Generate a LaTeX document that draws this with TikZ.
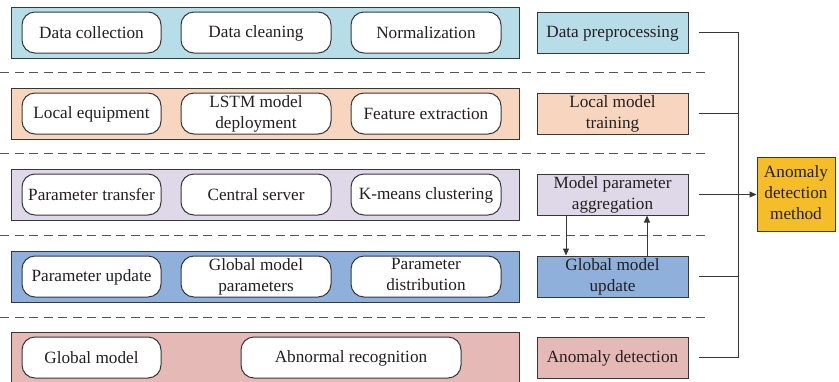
\documentclass[tikz,border=0pt]{standalone}
\usepackage{fontspec}
\setmainfont{Liberation Serif}
\usetikzlibrary{arrows.meta}
\definecolor{cA}{RGB}{183,221,232}
\definecolor{cB}{RGB}{248,213,190}
\definecolor{cC}{RGB}{222,216,232}
\definecolor{cD}{RGB}{142,176,219}
\definecolor{cE}{RGB}{229,185,182}
\definecolor{cF}{RGB}{245,190,40}
\definecolor{ln}{RGB}{55,55,55}
\definecolor{txt}{RGB}{35,31,32}
\newcommand{\topstr}{\rule{0pt}{14.5pt}}
\newcommand{\botstr}{\rule[-3.5pt]{0pt}{3.5pt}}
\begin{document}
\begin{tikzpicture}[x=1pt,y=-1pt,
  every node/.style={font=\fontsize{17.2}{21}\selectfont, text=txt, align=center, inner sep=0pt,
    execute at begin node=\topstr, execute at end node=\botstr},
  band/.style={draw=ln, line width=1pt, minimum width=508pt, minimum height=51pt},
  pill/.style={draw=ln, fill=white, line width=1pt, rounded corners=13pt, minimum height=41pt},
  lbl/.style={draw=ln, line width=1pt, minimum width=151pt, minimum height=41pt},
  sep/.style={draw=ln!85, line width=1pt, dash pattern=on 9pt off 5.5pt},
  conn/.style={draw=ln, line width=1pt},
  tip/.style={-{Triangle[length=7pt,width=6pt]}}
]
\useasboundingbox (0,0) rectangle (839,381);
% bands
\node[band, fill=cA] (b1) at (265,32.5) {};
\node[band, fill=cB] (b2) at (265,113.5) {};
\node[band, fill=cC] (b3) at (265,194.5) {};
\node[band, fill=cD] (b4) at (265,276.5) {};
\node[band, fill=cE] (b5) at (265,357.5) {};
% row 1
\node[pill, minimum width=139pt] (p11) at (91.5,32.5) {Data collection};
\node[pill, minimum width=150pt] (p12) at (256,32.5) {Data cleaning};
\node[pill, minimum width=150pt] (p13) at (426,32.5) {Normalization};
% row 2
\node[pill, minimum width=139pt] (p21) at (91.5,113.5) {Local equipment};
\node[pill, minimum width=150pt] (p22) at (256,113.5) {LSTM model\\deployment};
\node[pill, minimum width=150pt] (p23) at (426,113.5) {Feature extraction};
% row 3
\node[pill, minimum width=139pt] (p31) at (91.5,194.5) {Parameter transfer};
\node[pill, minimum width=150pt] (p32) at (256,194.5) {Central server};
\node[pill, minimum width=150pt] (p33) at (426,194.5) {K-means clustering};
% row 4
\node[pill, minimum width=139pt] (p41) at (91.5,276.5) {Parameter update};
\node[pill, minimum width=150pt] (p42) at (256,276.5) {Global model\\parameters};
\node[pill, minimum width=150pt] (p43) at (426,276.5) {Parameter\\distribution};
% row 5
\node[pill, minimum width=139pt] (p51) at (91.5,357.5) {Global model};
\node[pill, minimum width=220pt] (p52) at (351,357.5) {Abnormal recognition};
% labels
\node[lbl, fill=cA] (r1) at (612.5,32.5) {Data preprocessing};
\node[lbl, fill=cB] (r2) at (612.5,113.5) {Local model\\training};
\node[lbl, fill=cC] (r3) at (612.5,194.5) {Model parameter\\aggregation};
\node[lbl, fill=cD] (r4) at (612.5,276.5) {Global model\\update};
\node[lbl, fill=cE] (r5) at (612.5,357.5) {Anomaly detection};
\node[draw=ln, line width=1pt, fill=cF, minimum width=78pt, minimum height=74pt] (am) at (796,194.5) {Anomaly\\detection\\method};
% separators
\coordinate (s1a) at (0,72);  \coordinate (s1b) at (708,72);
\coordinate (s2a) at (0,153); \coordinate (s2b) at (708,153);
\coordinate (s3a) at (0,235); \coordinate (s3b) at (708,235);
\coordinate (s4a) at (0,317); \coordinate (s4b) at (708,317);
\draw[sep] (s1a) -- (s1b);
\draw[sep] (s2a) -- (s2b);
\draw[sep] (s3a) -- (s3b);
\draw[sep] (s4a) -- (s4b);
% bus
\coordinate (bus) at (738,0);
\draw[conn] ([xshift=10pt]r1.east) -- (r1.east -| bus) -- (r5.east -| bus) -- ([xshift=10pt]r5.east);
\draw[conn] ([xshift=10pt]r2.east) -- (r2.east -| bus);
\draw[conn] ([xshift=10pt]r4.east) -- (r4.east -| bus);
\draw[conn, tip] ([xshift=10pt]r3.east) -- (am.west |- r3.east);
% vertical arrows
\draw[conn, tip] ([xshift=-46.5pt]r3.south) -- ([xshift=-46.5pt]r3.south |- r4.north);
\draw[conn, tip] ([xshift=34.5pt]r4.north) -- ([xshift=34.5pt]r4.north |- r3.south);
\end{tikzpicture}
\end{document}
